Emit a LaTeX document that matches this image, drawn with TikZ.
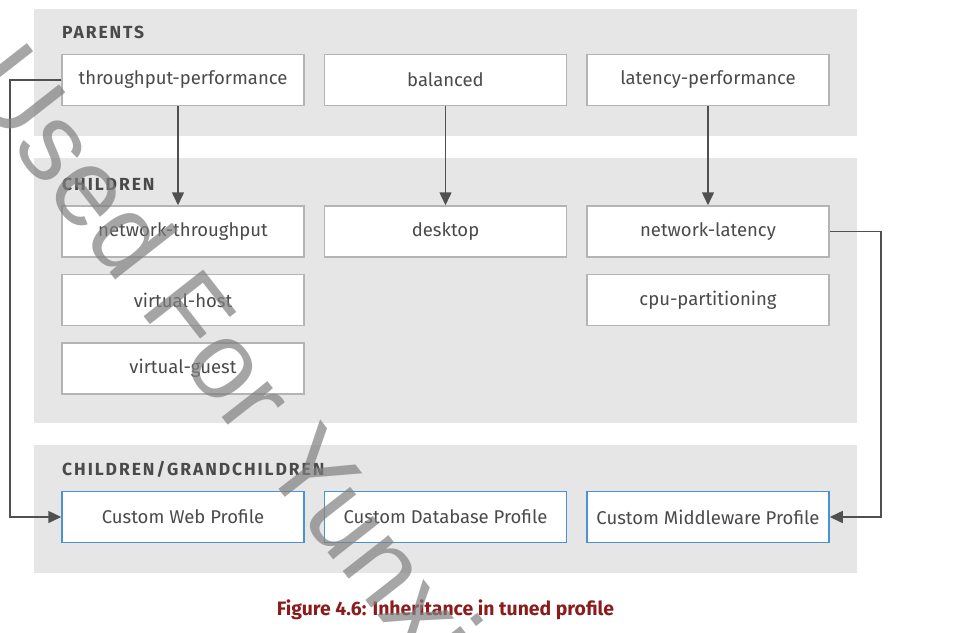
\documentclass[tikz,border=0pt]{standalone}
\usepackage{fontspec}
\setmainfont{Fira Sans}
\newfontfamily\wmfont{Liberation Sans}
\usetikzlibrary{arrows.meta}
\definecolor{panelgray}{HTML}{E6E6E6}
\definecolor{boxgray}{HTML}{B4B4B4}
\definecolor{txtgray}{HTML}{4A4A4A}
\definecolor{linegray}{HTML}{505050}
\definecolor{custblue}{HTML}{4A93D3}
\definecolor{capred}{HTML}{8C1C1C}
\definecolor{wmgray}{HTML}{808080}
\tikzset{
  panel/.style={fill=panelgray},
  profbox/.style={draw=boxgray, line width=1.5pt, fill=white, minimum width=242pt, minimum height=51pt, inner sep=0pt, text=txtgray, font=\fontsize{18.5}{20}\selectfont},
  custbox/.style={profbox, draw=custblue},
  header/.style={anchor=base west, inner sep=0pt, text=txtgray, font=\bfseries\fontsize{17.5}{20}\selectfont\addfontfeature{LetterSpace=11}},
  conn/.style={draw=linegray, line width=1.5pt, -{Triangle[length=13pt,width=12pt]}},
  wmark/.style={rotate=-52, anchor=base west, inner sep=0pt, text=wmgray, opacity=0.7, font=\wmfont\fontsize{110}{110}\selectfont}
}
\begin{document}
\begin{tikzpicture}[x=1pt,y=-1pt]
\useasboundingbox (0,0) rectangle (956,632);
% panels
\fill[panel] (34,9) rectangle (857,136);
\fill[panel] (34,158) rectangle (857,423);
\fill[panel] (34,445) rectangle (857,573);
% headers
\node[header] (hp) at (62,38) {PARENTS};
\node[header] (hc) at (62,190) {CHILDREN};
\node[header] (hg) at (62,475) {CHILDREN/GRANDCHILDREN};
% parents
\node[profbox] (tp) at (183,80) {throughput-performance};
\node[profbox] (bal) at (445.5,80) {balanced};
\node[profbox] (lp) at (708,80) {latency-performance};
% children
\node[profbox] (nt) at (183,231.5) {network-throughput};
\node[profbox] (vh) at (183,300) {virtual-host};
\node[profbox] (vg) at (183,368.5) {virtual-guest};
\node[profbox] (dt) at (445.5,231.5) {desktop};
\node[profbox] (nl) at (708,231.5) {network-latency};
\node[profbox] (cpu) at (708,300) {cpu-partitioning};
% custom
\node[custbox] (cw) at (183,517) {Custom Web Profile};
\node[custbox] (cd) at (445.5,517) {Custom Database Profile};
\node[custbox] (cm) at (708,517) {Custom Middleware Profile};
% connectors
\draw[conn] ([xshift=-5pt]tp.south) -- ([xshift=-5pt]nt.north);
\draw[conn] (bal.south) -- (dt.north);
\draw[conn] (lp.south) -- (nl.north);
\coordinate (l1) at (10,80);
\coordinate (l2) at (10,517);
\draw[conn] (tp.west) -- (l1) -- (l2) -- (cw.west);
\coordinate (r1) at (881,231.5);
\coordinate (r2) at (881,517);
\draw[conn] (nl.east) -- (r1) -- (r2) -- (cm.east);
% caption
\node[anchor=base, inner sep=0pt, text=capred, font=\bfseries\fontsize{19.4}{22}\selectfont] (cap) at (445.5,615) {Figure 4.6: Inheritance in tuned profile};
% watermark
\node[wmark] (wm) at (-38,83.5) {Used For Yunxi};
\end{tikzpicture}
\end{document}
